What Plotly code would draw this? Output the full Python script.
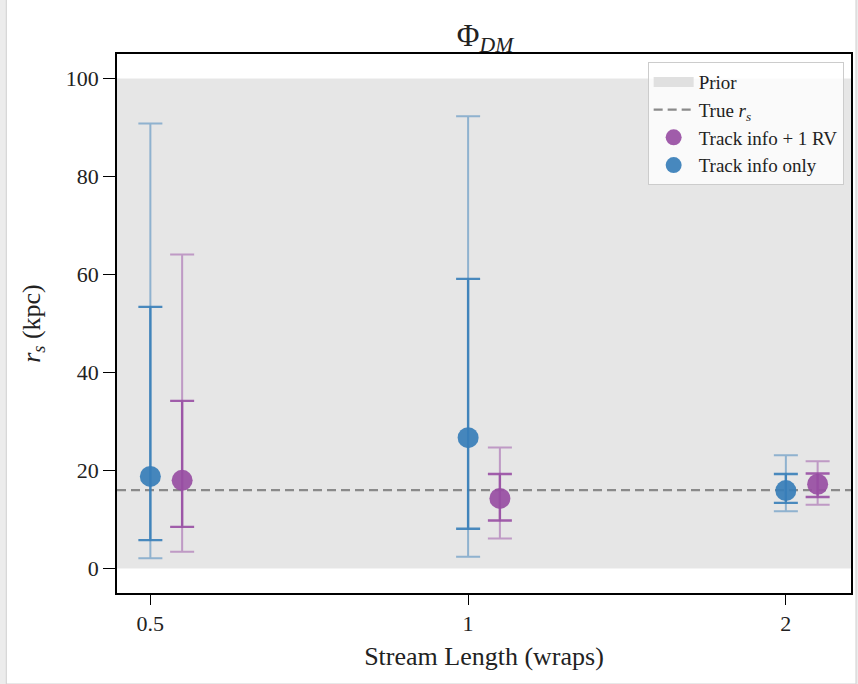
import plotly.graph_objects as go

# ---- data ----
stream_lengths = ["0.5", "1", "2"]          # tick labels (wraps)
true_rs = 16.0                               # true r_s (kpc)
prior_bounds = [0.0, 100.0]                  # prior range (kpc)

# Track info only (blue)
only_med = [18.8, 26.7, 15.9]
only_in_lo = [5.8, 8.1, 13.4]
only_in_hi = [53.4, 59.1, 19.3]
only_out_lo = [2.1, 2.4, 11.7]
only_out_hi = [90.8, 92.3, 23.1]

# Track info + 1 RV (purple)
rv_med = [18.0, 14.3, 17.2]
rv_in_lo = [8.5, 9.8, 14.6]
rv_in_hi = [34.2, 19.3, 19.4]
rv_out_lo = [3.4, 6.1, 13.0]
rv_out_hi = [64.1, 24.7, 21.9]

BLUE = "#377eb8"
PURPLE = "#984ea3"
FONT = "Liberation Serif"

xpos = list(range(len(stream_lengths)))
x_off = 0.1
xr = [-0.105, 2.205]

def rgba(hexc, a):
    h = hexc.lstrip("#")
    r, g, b = int(h[0:2], 16), int(h[2:4], 16), int(h[4:6], 16)
    return f"rgba({r},{g},{b},{a})"

fig = go.Figure()

# prior band
fig.add_trace(go.Scatter(
    x=[xr[0], xr[1], xr[1], xr[0], xr[0]],
    y=[prior_bounds[0], prior_bounds[0], prior_bounds[1], prior_bounds[1], prior_bounds[0]],
    fill="toself", fillcolor="rgba(128,128,128,0.2)", mode="none",
    showlegend=False, hoverinfo="skip"))
# legend entry for prior (thick line patch)
fig.add_trace(go.Scatter(
    x=[None], y=[None], mode="lines",
    line=dict(width=14, color="#e0e0e0"), name="Prior", legendrank=1))

# true r_s
fig.add_trace(go.Scatter(
    x=xr, y=[true_rs, true_rs], mode="lines",
    line=dict(color="#8a8a8a", width=2.2, dash="9px,5px"),
    name="True <i>r<sub>s</sub></i>", legendrank=2, hoverinfo="skip"))

def add_series(xs, med, in_lo, in_hi, out_lo, out_hi, color, name, rank):
    # outer interval (lighter)
    fig.add_trace(go.Scatter(
        x=xs, y=med, mode="markers", marker=dict(size=1, color="rgba(0,0,0,0)"),
        error_y=dict(type="data", symmetric=False,
                     array=[h - m for h, m in zip(out_hi, med)],
                     arrayminus=[m - l for l, m in zip(out_lo, med)],
                     color=rgba(color, 0.5), thickness=2, width=12),
        showlegend=False, hoverinfo="skip"))
    # inner interval + median
    fig.add_trace(go.Scatter(
        x=xs, y=med, mode="markers",
        marker=dict(size=21, color=rgba(color, 0.92), line=dict(width=0)),
        error_y=dict(type="data", symmetric=False,
                     array=[h - m for h, m in zip(in_hi, med)],
                     arrayminus=[m - l for l, m in zip(in_lo, med)],
                     color=rgba(color, 0.9), thickness=2.4, width=12),
        name=name, legendrank=rank))

add_series(xpos, only_med, only_in_lo, only_in_hi, only_out_lo, only_out_hi,
           BLUE, "Track info only", 4)
add_series([p + x_off for p in xpos], rv_med, rv_in_lo, rv_in_hi, rv_out_lo, rv_out_hi,
           PURPLE, "Track info + 1 RV", 3)

W, H = 858, 684
ml, mr, mt, mb = 117, 5, 54, 91

# white figure area over grey page border
fig.add_shape(type="rect", xref="paper", yref="paper",
              x0=(6 - ml) / (W - ml - mr), x1=(W - ml) / (W - ml - mr),
              y0=-mb / (H - mt - mb), y1=(H - mt - 8) / (H - mt - mb),
              fillcolor="white", line=dict(color="#d0d0d0", width=1), layer="below")

fig.update_layout(
    width=W, height=H,
    margin=dict(l=ml, r=mr, t=mt, b=mb),
    paper_bgcolor="#ececec", plot_bgcolor="white",
    font=dict(family=FONT, size=20, color="#222222"),
    title=dict(text="Φ<sub><i>DM</i></sub>", x=(485) / W, xanchor="center",
               y=1 - 35 / H, yanchor="middle", font=dict(size=31)),
    showlegend=True,
    legend=dict(x=0.99, y=0.985, xanchor="right", yanchor="top",
                bgcolor="rgba(255,255,255,0.8)", bordercolor="#cccccc", borderwidth=1,
                font=dict(size=19), traceorder="normal", tracegroupgap=0,
                itemwidth=40),
    xaxis=dict(range=xr, tickmode="array", tickvals=xpos, ticktext=stream_lengths,
               showgrid=False, zeroline=False, showline=True, mirror=True,
               linecolor="black", linewidth=1.5, ticks="outside", ticklen=10,
               tickwidth=1.3, tickcolor="black", tickfont=dict(size=22),
               title=dict(text="Stream Length (wraps)", font=dict(size=26), standoff=12)),
    yaxis=dict(range=[-5, 105], tickmode="array", tickvals=[0, 20, 40, 60, 80, 100],
               showgrid=False, zeroline=False, showline=True, mirror=True,
               linecolor="black", linewidth=1.5, ticks="outside", ticklen=12,
               tickwidth=1.3, tickcolor="black", tickfont=dict(size=22),
               title=dict(text="<i>r<sub>s</sub></i> (kpc)", font=dict(size=26), standoff=18)),
)

fig.write_html("out.html")
